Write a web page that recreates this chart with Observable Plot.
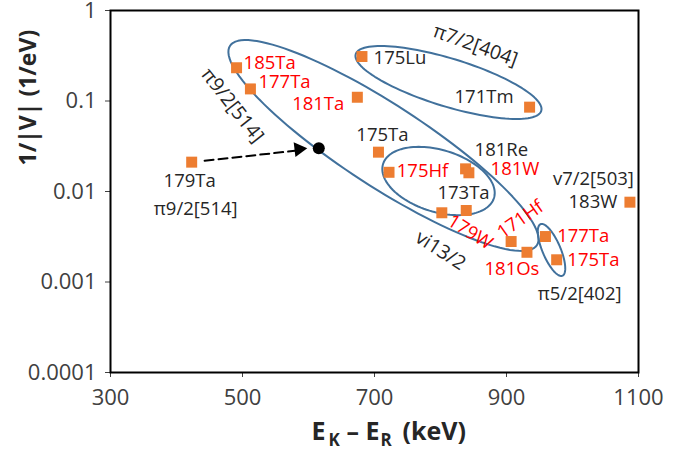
<!DOCTYPE html>
<html><head><meta charset="utf-8">
<script src="https://cdn.jsdelivr.net/npm/d3@7"></script>
<script src="https://cdn.jsdelivr.net/npm/@observablehq/plot@0.6"></script>
<style>body{margin:0;background:#fff}</style>
</head><body><div id="chart"></div>
<script>
// ---- data ----
const isotopes  = ["179Ta","185Ta","177Ta","181Ta","175Lu","171Tm","175Ta","175Hf","181Re","181W","173Ta","179W","171Hf","181Os","177Ta","175Ta","183W"];
const energyKeV = [423, 491, 512, 674, 681, 935, 706, 722, 838, 843, 839, 802, 907, 931, 959, 976, 1087];
const inverseV  = [0.0211, 0.233, 0.136, 0.110, 0.310, 0.0855, 0.0272, 0.0163, 0.0178, 0.0161, 0.00617, 0.00582, 0.00280, 0.00213, 0.00318, 0.00176, 0.00762];
const highlighted = [false,true,true,true,false,false,false,true,false,true,false,true,true,true,true,true,false];
const targetName = ["179Ta target"];
const targetKeV  = [615.6];
const targetInvV = [0.0301];
const xTicks = [300, 500, 700, 900, 1100];
const yTicks = [1, 0.1, 0.01, 0.001, 0.0001];
const yTickLabels = ["1", "0.1", "0.01", "0.001", "0.0001"];
const bandNames = ["π9/2[514]", "π7/2[404]", "small", "π5/2[402]"];
const bandCenterKeV = [713.6, 812.1, 797, 968.2];
const bandCenterInvV = [0.03224, 0.1601, 0.01306, 0.00226];

// ---- layout ----
const W = 682, H = 449, ML = 110, MR = 44, MT = 10, MB = 77;
const kevPerPx = (1100 - 300) / (W - ML - MR);
const decPerPx = 4 / (H - MT - MB);
const ellipseShape = [ // semi-axes (px) and tilt (deg)
  {a: 183, b: 41, angle: 33},
  {a: 97, b: 24, angle: 17},
  {a: 58, b: 31, angle: 17},
  {a: 28, b: 9, angle: 67}
];
const labelLayout = [
  {anchor:"middle", dx:-2, dy:18.5},
  {anchor:"start", dx:7, dy:-4.5},
  {anchor:"start", dx:8, dy:-6.6},
  {anchor:"end", dx:-13, dy:6.5},
  {anchor:"start", dx:11.6, dy:2},
  {anchor:"end", dx:-16, dy:-9.7},
  {anchor:"middle", dx:4, dy:-16.7},
  {anchor:"start", dx:7.7, dy:-1.7},
  {anchor:"start", dx:9, dy:-18.3},
  {anchor:"start", dx:21.7, dy:-4},
  {anchor:"middle", dx:-2.7, dy:-17},
  {anchor:"middle", dx:28.3, dy:19.4, rotate:32},
  {anchor:"middle", dx:9.3, dy:-22, rotate:-35},
  {anchor:"middle", dx:-15, dy:16.3},
  {anchor:"start", dx:11.7, dy:0},
  {anchor:"start", dx:10.7, dy:0.4},
  {anchor:"end", dx:-12.6, dy:0}
];
const FONT = "Open Sans";
const LABEL_SIZE = 18.5, GROUP_SIZE = 19.5;

// ellipse outlines, computed in data space through the scale geometry
const ellipsePts = [];
bandNames.forEach((g, k) => {
  const {a, b, angle} = ellipseShape[k];
  const th = angle * Math.PI / 180;
  for (let deg = 0; deg < 360; deg += 3) {
    const t = deg * Math.PI / 180;
    const u = a * Math.cos(t), v = b * Math.sin(t);
    const ox = u * Math.cos(th) - v * Math.sin(th);
    const oy = u * Math.sin(th) + v * Math.cos(th);
    ellipsePts.push({g, x: bandCenterKeV[k] + ox * kevPerPx, y: bandCenterInvV[k] * Math.pow(10, -oy * decPerPx)});
  }
});

const idx = isotopes.map((_, i) => i);
const labelMarks = idx.map(i => Plot.text([i], {
  x: j => energyKeV[j], y: j => inverseV[j], text: j => isotopes[j],
  textAnchor: labelLayout[i].anchor, dx: labelLayout[i].dx, dy: labelLayout[i].dy,
  rotate: labelLayout[i].rotate || 0,
  fill: highlighted[i] ? "#ff0000" : "#262626", fontSize: LABEL_SIZE, fontFamily: FONT
}));

function extraLabel(text, i, dx, dy, anchor = "middle") {
  return Plot.text([i], {x: j => energyKeV[j], y: j => inverseV[j], text: () => text,
    textAnchor: anchor, dx, dy, fill: "#262626", fontSize: LABEL_SIZE, fontFamily: FONT});
}
function bandLabel(text, k, dx, dy, rotate) {
  return Plot.text([k], {x: j => bandCenterKeV[j], y: j => bandCenterInvV[j], text: () => text,
    dx, dy, rotate, fill: "#262626", fontSize: GROUP_SIZE, fontFamily: FONT});
}

const xTitle = [
  {t: "E", x: 311, y: 439, s: 25},
  {t: "K", x: 328, y: 445, s: 17},
  {t: "– E", x: 346, y: 439, s: 25},
  {t: "R", x: 380, y: 445, s: 17},
  {t: "(keV)", x: 402, y: 439, s: 25}
].map(p => Plot.text([p.t], {frameAnchor: "bottom-left", textAnchor: "start", lineAnchor: "bottom",
  dx: p.x - ML, dy: p.y - (H - MB), fontSize: p.s, fontWeight: "bold", fontFamily: FONT, fill: "#262626"}));

const chart = Plot.plot({
  width: W, height: H,
  marginLeft: ML, marginRight: MR, marginTop: MT, marginBottom: MB,
  style: {fontFamily: FONT, fontSize: "22px", color: "#404040", background: "#fff", overflow: "visible"},
  x: {domain: [300, 1100], ticks: xTicks, tickFormat: d => String(d), tickSize: 5, tickPadding: 12, label: null},
  y: {type: "log", domain: [1e-4, 1], ticks: yTicks, tickFormat: d => yTickLabels[yTicks.indexOf(d)], tickSize: 5, tickPadding: 9, label: null},
  marks: [
    Plot.line(ellipsePts, {x: "x", y: "y", z: "g", curve: "linear-closed", stroke: "#41719c", strokeWidth: 2}),
    Plot.arrow([0], {x1: j => energyKeV[j], y1: j => inverseV[j], x2: () => targetKeV[0], y2: () => targetInvV[0],
      insetStart: 13, insetEnd: 24, headLength: 0, stroke: "black", strokeWidth: 2, strokeDasharray: "9,5"}),
    Plot.dot([0], {x: () => targetKeV[0], y: () => targetInvV[0], symbol: "triangle", r: 5.5, rotate: 83,
      dx: -20, dy: 1, fill: "black", stroke: "none"}),
    Plot.dot(idx, {x: j => energyKeV[j], y: j => inverseV[j], symbol: "square", r: 6.2, fill: "#ed7d31"}),
    Plot.dot(targetName, {x: (d, i) => targetKeV[i], y: (d, i) => targetInvV[i], r: 6, fill: "black"}),
    ...labelMarks,
    extraLabel("π9/2[514]", 0, 4, 47),
    extraLabel("v7/2[503]", 16, 4, -22.7, "end"),
    extraLabel("π5/2[402]", 15, 23, 34.7),
    bandLabel("π9/2[514]", 0, -151, -40, 52),
    bandLabel("vi13/2", 0, 57, 105, 33),
    bandLabel("π7/2[404]", 1, 27, -37, 20),
    Plot.text(["1/|V| (1/eV)"], {frameAnchor: "left", rotate: -90, dx: 28 - ML, dy: 165 - (MT + (H - MT - MB) / 2),
      fontSize: 23, fontWeight: "bold", fontFamily: FONT, fill: "#262626"}),
    ...xTitle,
    Plot.frame({stroke: "black", strokeWidth: 2})
  ]
});
document.getElementById("chart").appendChild(chart);
</script>
</body></html>
